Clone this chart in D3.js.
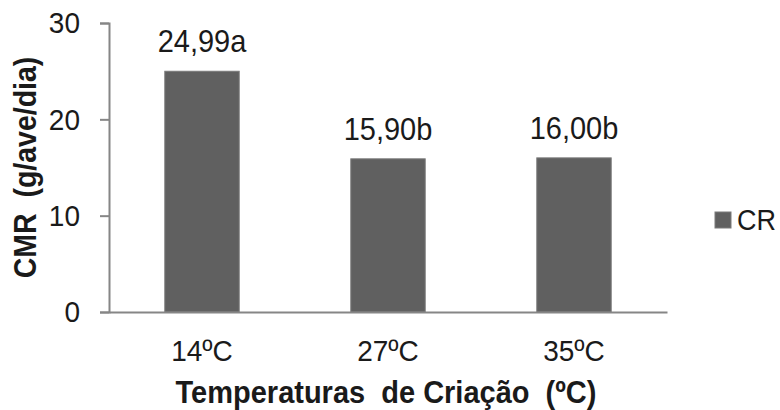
<!DOCTYPE html>
<html><head><meta charset="utf-8">
<script src="https://cdn.jsdelivr.net/npm/d3@7"></script>
<style>
html,body{margin:0;padding:0;background:#fff;}
svg text{font-family:"Liberation Sans",Arial,sans-serif;white-space:pre;}
</style></head>
<body>
<svg id="chart" width="780" height="410"></svg>
<script>
const categories = ["14ºC", "27ºC", "35ºC"];
const values = [24.99, 15.90, 16.00];
const valueLabels = ["24,99a", "15,90b", "16,00b"];
const yTicks = [0, 10, 20, 30];
const seriesName = "CR";

const svg = d3.select("#chart");
const x = d3.scaleBand().domain(categories).range([109, 667]).paddingInner(0.6).paddingOuter(0.3);
const y = d3.scaleLinear().domain([0, 30]).range([312, 23]);
const axisColor = "#868686";
const textColor = "#1a1a1a";
const fs = 28;

// bars
svg.selectAll("rect.bar").data(values).enter().append("rect")
  .attr("class", "bar")
  .attr("x", (d, i) => x(categories[i]))
  .attr("width", x.bandwidth())
  .attr("y", d => y(d))
  .attr("height", d => y(0) - y(d))
  .attr("fill", "#606060")
  .attr("stroke", "#7a7a7a")
  .attr("stroke-width", 1);

// value labels
svg.selectAll("text.vl").data(values).enter().append("text")
  .attr("class", "vl")
  .attr("x", (d, i) => x(categories[i]) + x.bandwidth() / 2)
  .attr("y", d => y(d) - 20)
  .attr("text-anchor", "middle")
  .attr("font-size", 29)
  .attr("fill", textColor)
  .text((d, i) => valueLabels[i]);

// y axis
const yAxis = d3.axisLeft(y).tickValues(yTicks).tickSize(9).tickPadding(20).tickFormat(d3.format("d"));
const gy = svg.append("g").attr("transform", "translate(109,0)").call(yAxis);
gy.select(".domain").attr("stroke", axisColor).attr("stroke-width", 2);
gy.selectAll(".tick line").attr("stroke", axisColor).attr("stroke-width", 2);
gy.selectAll(".tick text").attr("font-size", fs).attr("fill", textColor)
  .attr("font-family", "Liberation Sans, Arial, sans-serif");

// x axis
const xAxis = d3.axisBottom(x).tickSize(0).tickPadding(28);
const gx = svg.append("g").attr("transform", "translate(0,312)").call(xAxis);
gx.select(".domain").attr("stroke", axisColor).attr("stroke-width", 2);
gx.selectAll(".tick text").attr("font-size", fs).attr("fill", textColor)
  .attr("font-family", "Liberation Sans, Arial, sans-serif");

// axis titles
svg.append("text")
  .attr("x", 386).attr("y", 402)
  .attr("text-anchor", "middle")
  .attr("font-size", 29).attr("font-weight", "bold").attr("fill", textColor)
  .text("Temperaturas  de Criação  (ºC)");

svg.append("text")
  .attr("class", "ylab")
  .attr("transform", "translate(35,167.5) rotate(-90)")
  .attr("text-anchor", "middle")
  .attr("font-size", 28.5).attr("font-weight", "bold").attr("fill", textColor)
  .text("CMR  (g/ave/dia)");

// legend
const lg = svg.append("g").attr("transform", "translate(715,212)");
lg.append("rect").attr("width", 16).attr("height", 16).attr("fill", "#606060").attr("stroke", "#7a7a7a");
lg.append("text").attr("x", 22).attr("y", 8).attr("dy", "0.36em")
  .attr("font-size", 27).attr("fill", textColor).text(seriesName);

// slight vertical stretch of glyphs, as in the reference rendering
const stretch = 1.08;
svg.selectAll("text").each(function () {
  const b = this.getBBox();
  const cy = b.y + b.height / 2;
  const prev = this.getAttribute("transform") || "";
  this.setAttribute("transform", prev + ` translate(0,${cy}) scale(1,${stretch}) translate(0,${-cy})`);
});
</script>
</body></html>
